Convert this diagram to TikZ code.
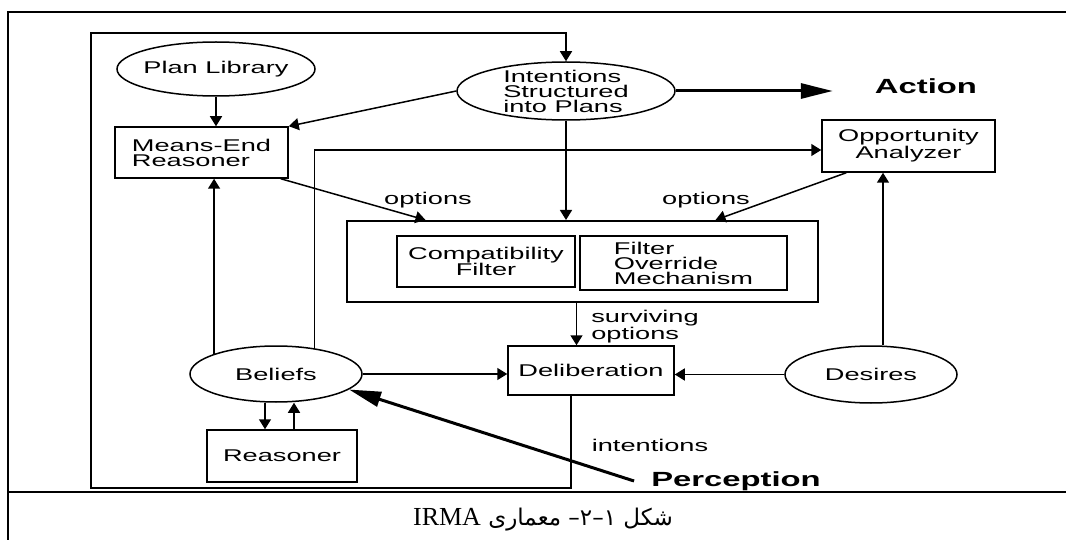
\documentclass[tikz,border=0pt]{standalone}
\usepackage{fontspec}
\usetikzlibrary{shapes.geometric,arrows.meta,positioning}
\newfontfamily\diagfont[FakeStretch=1.6]{Liberation Sans}
\newfontfamily\arabicfont[Script=Arabic,Scale=2.3]{DejaVu Sans}
\newfontfamily\latinserif[Scale=2.6]{Liberation Serif}
\TeXXeTstate=1
\tikzset{
  every node/.style={font=\diagfont\fontsize{17}{15}\selectfont,inner sep=0pt},
  box/.style={draw,line width=1.5pt,rectangle},
  oval/.style={draw,ellipse,line width=1.5pt,inner xsep=-5pt,inner ysep=-4pt},
  arr/.style={line width=1.5pt,-{Triangle[length=10pt,width=12pt]}},
  bigarr/.style={line width=3pt,-{Triangle[length=32pt,width=15pt]}},
  boldlbl/.style={font=\diagfont\bfseries\fontsize{20.5}{20}\selectfont},
  captxt/.style={font=\arabicfont},
  frame/.style={line width=1.6pt}
}
\begin{document}
\begin{tikzpicture}[x=1pt,y=-1pt]
\useasboundingbox (0,0) rectangle (1066,540);
% table frame and caption row
\draw[frame] (8,540) -- (8,12) -- (1066,12);
\draw[frame] (8,492) -- (1066,492);
\node[captxt] (cap) at (543,520) {\beginR شکل ۱–۲– معماری \beginL{\latinserif IRMA}\endL\endR};
% IRMA architecture
\node[oval,minimum width=198pt,minimum height=54pt] (plib) at (216,69) {Plan Library};
\node[oval,minimum width=218pt,minimum height=58pt,align=left] (intent) at (566,91) {Intentions\\Structured\\into Plans};
\node[box,minimum width=173pt,minimum height=51pt,align=left] (means) at (201.5,152.5) {Means-End\\Reasoner};
\node[box,minimum width=173pt,minimum height=52pt,align=center] (opp) at (908.5,146) {Opportunity\\Analyzer};
\node[box,line width=2pt,minimum width=471pt,minimum height=81pt] (filt) at (582.5,261.5) {};
\node[box,minimum width=178pt,minimum height=51pt,align=center] (compat) at (486,261.5) {Compatibility\\Filter};
\node[box,minimum width=207pt,minimum height=54pt,align=left] (override) at (683.5,263) {Filter\\Override\\Mechanism};
\node[box,minimum width=166pt,minimum height=49pt] (delib) at (591,370.5) {Deliberation};
\node[oval,minimum width=172pt,minimum height=56pt] (beliefs) at (276,374) {Beliefs};
\node[oval,minimum width=172pt,minimum height=57pt] (desires) at (871,374.5) {Desires};
\node[box,minimum width=150pt,minimum height=52pt] (reasoner) at (282,456) {Reasoner};
\node[boldlbl] (action) at (926,86) {Action};
\node[boldlbl] (percep) at (736,481) {Perception};
\node (optl) at (428,200) {options};
\node (optr) at (706,200) {options};
\node[align=left] (surv) at (645,327) {surviving\\options};
\node (intl) at (650,445) {intentions};
\coordinate (loopbl) at (91,488);
\coordinate (looptl) at (91,33);
% connectors
\draw[arr] (plib.south) -- (plib.south |- means.north);
\draw[arr] (intent.west) -- (means.north east);
\draw[bigarr] (intent.east) -- ([xshift=-42pt]intent.east -| action.west);
\draw[arr] (intent.south) -- (intent.south |- filt.north);
\draw[arr] ([xshift=-8pt]means.south east) -- ([xshift=-157pt]filt.north);
\draw[arr] ([xshift=25pt]opp.south west) -- ([xshift=133pt]filt.north);
\draw[arr] (beliefs.162) -- (beliefs.162 |- means.south);
\draw[arr] (beliefs.34) |- ([yshift=-4pt]opp.west);
\draw[arr] ([xshift=-6pt]filt.south) -- ([xshift=-6pt]filt.south |- delib.north);
\draw[arr] (beliefs.east) -- (beliefs.east -| delib.west);
\draw[arr] (desires.west) -- (desires.west -| delib.east);
\draw[arr] ([xshift=12pt]desires.north) -- ([xshift=12pt]desires.north |- opp.south);
\draw[arr] ([xshift=-11pt]beliefs.south) -- ([xshift=-11pt]beliefs.south |- reasoner.north);
\draw[arr] ([xshift=12pt]reasoner.north) -- ([xshift=12pt]reasoner.north |- beliefs.south);
\draw[arr] ([xshift=-20pt]delib.south) |- (loopbl) -- (looptl) -| (intent.north);
\draw[bigarr] ([xshift=-17pt]percep.west) -- (beliefs.-12);
\end{tikzpicture}
\end{document}
